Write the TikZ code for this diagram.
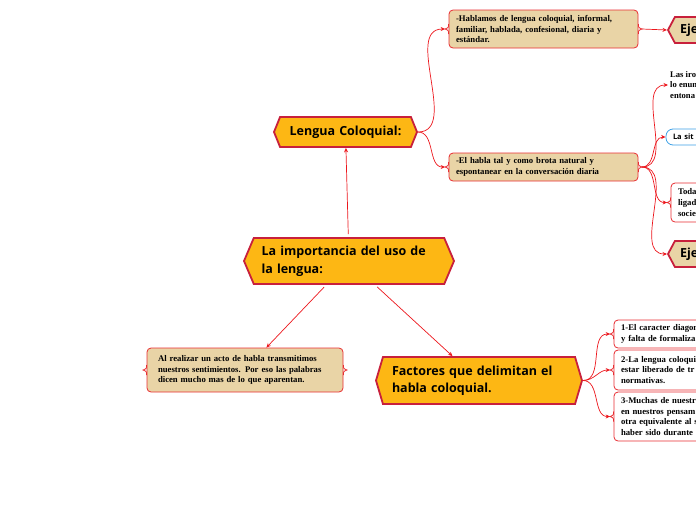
\documentclass[tikz,border=0pt]{standalone}
\usepackage{fontspec}
\setmainfont{Liberation Serif}
\setsansfont{Open Sans}
\usepackage{tikz}
\usetikzlibrary{shapes.symbols,arrows.meta,positioning,calc}
\definecolor{hexOrange}{RGB}{253,183,20}
\definecolor{hexBorder}{RGB}{200,32,60}
\definecolor{noteTan}{RGB}{233,212,166}
\definecolor{boxRed}{RGB}{232,45,50}
\definecolor{linkRed}{RGB}{236,22,28}
\definecolor{siBlue}{RGB}{60,160,230}
% small brace tips on the sides of the boxes
\newcommand{\notchin}[1]{%
  \draw[boxRed,line width=0.8pt] ($(#1.west)+(0,-5)$) .. controls ($(#1.west)+(0,-1.5)$) .. ($(#1.west)+(-3.5,0)$)
    .. controls ($(#1.west)+(0,1.5)$) .. ($(#1.west)+(0,5)$);
  \coordinate (#1-in) at ($(#1.west)+(-3.5,0)$);}
\newcommand{\notchout}[1]{%
  \draw[boxRed,line width=0.8pt] ($(#1.east)+(0,-5)$) .. controls ($(#1.east)+(0,-1.5)$) .. ($(#1.east)+(3.5,0)$)
    .. controls ($(#1.east)+(0,1.5)$) .. ($(#1.east)+(0,5)$);
  \coordinate (#1-out) at ($(#1.east)+(3.5,0)$);}

\begin{document}
\begin{tikzpicture}[x=1pt,y=-1pt,
    hexnode/.style={shape=signal, signal to=west and east, draw=hexBorder, line width=1.8pt,
      fill=hexOrange, font=\sffamily\bfseries\fontsize{12.5}{17.5}\selectfont, inner sep=0pt},
    notebox/.style={draw=boxRed, fill=noteTan, rounded corners=4pt, line width=0.8pt,
      font=\bfseries\fontsize{8.7}{10.6}\selectfont, align=left, inner xsep=7pt, inner ysep=0pt},
    leafbox/.style={notebox, fill=white},
    link/.style={-{Stealth[length=4.5pt,width=4pt]}, draw=linkRed, line width=0.7pt},
    >=Stealth
  ]
  \clip (0,0) rectangle (696,520);

  % hexagons
  \node[hexnode, minimum width=210pt, minimum height=46pt, text width=175pt, align=left,
    signal pointer angle=134] (imp) at (349,261) {La importancia del uso de\\la lengua:};
  \node[hexnode, minimum width=143pt, minimum height=30pt, text width=120pt, align=center,
    signal pointer angle=136] (lc) at (345.5,132) {Lengua Coloquial:};
  \node[hexnode, minimum width=206pt, minimum height=47pt, text width=174pt, align=left,
    signal pointer angle=147] (fac) at (479,380.5) {Factores que delimitan el\\habla coloquial.};
  \node[hexnode, fill=noteTan, minimum width=100pt, minimum height=26pt, text width=76pt, align=left,
    signal pointer angle=124] (eje1) at (718,30) {Eje};
  \node[hexnode, fill=noteTan, minimum width=100pt, minimum height=26pt, text width=76pt, align=left,
    signal pointer angle=124] (eje2) at (718,254) {Eje};

  % notes
  \node[notebox, minimum width=189pt, minimum height=38pt, text width=175pt] (hab) at (543.5,29)
    {-Hablamos de lengua coloquial, informal,\\familiar, hablada, confesional, diaria y\\estándar.};
  \node[notebox, minimum width=189pt, minimum height=28pt, text width=175pt] (bro) at (543.5,167)
    {-El habla tal y como brota natural y\\espontanear en la conversación diaria};
  \node[notebox, minimum width=196pt, minimum height=44pt, text width=174pt, inner xsep=11pt] (acto) at (245,370)
    {Al realizar un acto de habla transmitimos\\nuestros sentimientos. Por eso las palabras\\dicen mucho mas de lo que aparentan.};

  % right side
  \node[font=\bfseries\fontsize{8.6}{10.8}\selectfont, align=left, anchor=west, inner sep=0pt] (iro) at (670,85)
    {Las iro\\lo enum\\entona};
  \node[draw=siBlue, fill=white, line width=0.8pt, rounded corners=7pt, minimum width=94pt, minimum height=16pt,
    text width=80pt, inner xsep=7pt, inner ysep=0pt, align=left, font=\sffamily\bfseries\fontsize{7.5}{9}\selectfont]
    (sit) at (713,137) {La sit};
  \node[leafbox, minimum width=90pt, minimum height=39pt, text width=76pt] (toda) at (716,202.5)
    {Toda\\ligad\\socie};
  \node[leafbox, minimum width=120pt, minimum height=28pt, text width=106pt] (f1) at (674,334)
    {1-El caracter diagon\\y falta de formaliza};
  \node[leafbox, minimum width=120pt, minimum height=40pt, text width=106pt] (f2) at (674,370)
    {2-La lengua coloqui\\estar liberado de tr\\normativas.};
  \node[leafbox, minimum width=120pt, minimum height=49pt, text width=106pt] (f3) at (674,416.5)
    {3-Muchas de nuestr\\en nuestros pensam\\otra equivalente al s\\haber sido durante};

  \notchin{hab} \notchout{hab}
  \notchin{bro} \notchout{bro}
  \notchin{acto} \notchout{acto}
  \notchin{toda}
  \notchin{f1} \notchin{f2} \notchin{f3}

  % connectors
  \draw[link, shorten <=3pt] (imp) -- (lc);
  \draw[link, shorten <=3pt] (imp) -- (acto);
  \draw[link, shorten <=3pt] (imp) -- (fac);
  \draw[link] (lc.east) to[out=0,in=180] (hab-in);
  \draw[link] (lc.east) to[out=0,in=180] (bro-in);
  \draw[link] (hab-out) -- (eje1.west);
  \draw[link] (bro-out) to[out=0,in=180] ([xshift=-2pt]iro.west);
  \draw[link] (bro-out) to[out=0,in=180] (sit.west);
  \draw[link] (bro-out) to[out=0,in=180] (toda-in);
  \draw[link] (bro-out) to[out=0,in=180] (eje2.west);
  \draw[link] (fac.east) to[out=0,in=180] (f1-in);
  \draw[link] (fac.east) to[out=0,in=180] (f2-in);
  \draw[link] (fac.east) to[out=0,in=180] (f3-in);
\end{tikzpicture}
\end{document}
